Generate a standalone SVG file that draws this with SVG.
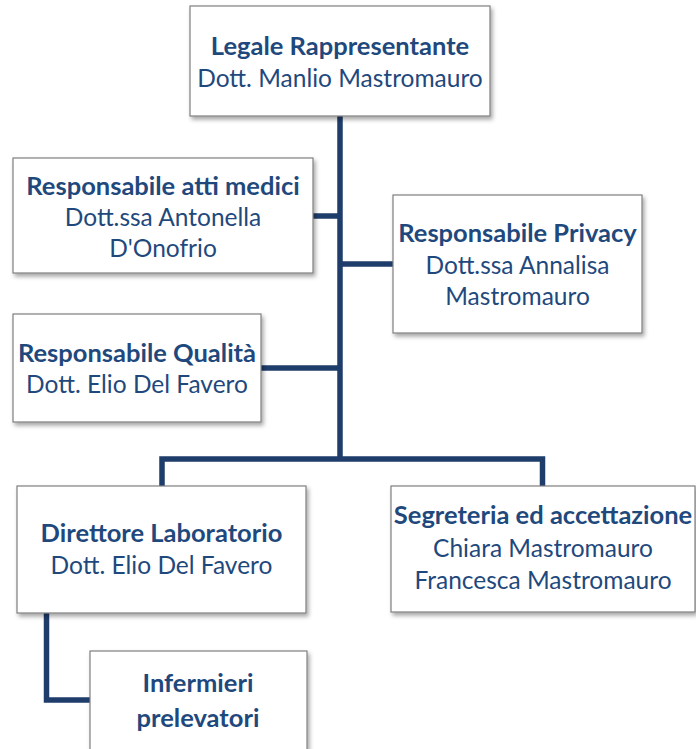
<svg xmlns="http://www.w3.org/2000/svg" width="696" height="749" viewBox="0 0 696 749">
<defs>
<filter id="sh" x="-10%" y="-10%" width="130%" height="130%">
<feDropShadow dx="2" dy="3" stdDeviation="2.2" flood-color="#000" flood-opacity="0.35"/>
</filter>
<style>
.box{fill:#fff;stroke:#7f7f7f;stroke-width:1.2;filter:url(#sh)}
.t{font-family:Lato,"Liberation Sans",sans-serif;fill:#1F497D;text-anchor:middle;font-size:24.5px}
.b{font-weight:bold;font-size:25.5px}
.c{fill:none;stroke:#1F3D6B;stroke-width:5.5;stroke-linejoin:miter}
</style>
</defs>
<rect width="696" height="749" fill="#fff"/>
<g id="connectors">
<path class="c" d="M340 116 V459"/>
<path class="c" d="M313 216 H340"/>
<path class="c" d="M340 264 H393"/>
<path class="c" d="M261 368 H340"/>
<path class="c" d="M162 486 V459 H542.5 V486"/>
<path class="c" d="M46.5 613 V700 H90"/>
</g>
<g id="legale">
<rect class="box" x="190" y="6" width="300" height="110"/>
<text class="t b" x="340" y="54.5">Legale Rappresentante</text>
<text class="t" x="340" y="86.5">Dott. Manlio Mastromauro</text>
</g>
<g id="atti-medici">
<rect class="box" x="13" y="158" width="300" height="115"/>
<text class="t b" x="163" y="195">Responsabile atti medici</text>
<text class="t" x="163" y="226">Dott.ssa Antonella</text>
<text class="t" x="163" y="257">D'Onofrio</text>
</g>
<g id="privacy">
<rect class="box" x="393" y="195" width="249" height="138"/>
<text class="t b" x="517.5" y="242">Responsabile Privacy</text>
<text class="t" x="517.5" y="273.5">Dott.ssa Annalisa</text>
<text class="t" x="517.5" y="305">Mastromauro</text>
</g>
<g id="qualita">
<rect class="box" x="13" y="314" width="248" height="108"/>
<text class="t b" x="137" y="361.5">Responsabile Qualità</text>
<text class="t" x="137" y="393">Dott. Elio Del Favero</text>
</g>
<g id="direttore">
<rect class="box" x="17" y="486" width="289" height="127"/>
<text class="t b" x="161.5" y="541.5">Direttore Laboratorio</text>
<text class="t" x="161.5" y="574">Dott. Elio Del Favero</text>
</g>
<g id="segreteria">
<rect class="box" x="391" y="486" width="304" height="126"/>
<text class="t b" x="543" y="523.5">Segreteria ed accettazione</text>
<text class="t" x="543" y="557">Chiara Mastromauro</text>
<text class="t" x="543" y="589">Francesca Mastromauro</text>
</g>
<g id="infermieri">
<rect class="box" x="90" y="651" width="217" height="110"/>
<text class="t b" x="198" y="692">Infermieri</text>
<text class="t b" x="198" y="727">prelevatori</text>
</g>
</svg>
